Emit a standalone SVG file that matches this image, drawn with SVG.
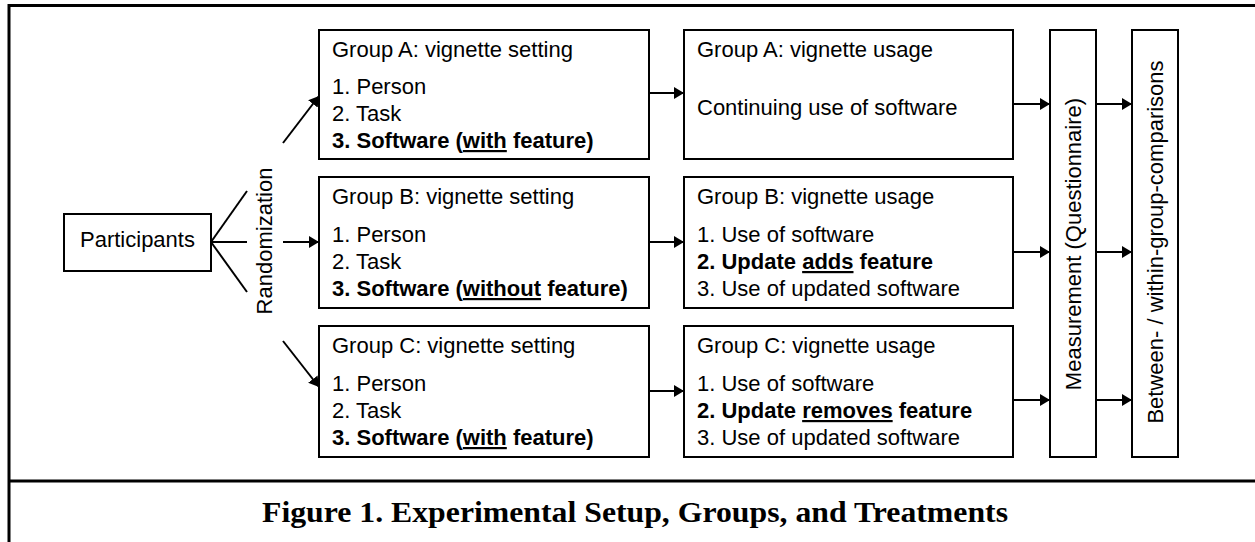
<svg xmlns="http://www.w3.org/2000/svg" width="1255" height="542" viewBox="0 0 1255 542">
<style>
.box{fill:#fff;stroke:#000;stroke-width:2}
.t{font-family:"Liberation Sans",Arial,sans-serif;font-size:22px;fill:#000}
.b{font-weight:bold}
.u{text-decoration:underline}
.c{stroke:#000;stroke-width:2;fill:none}
.a{stroke:#000;stroke-width:2;fill:none;marker-end:url(#ah)}
.frame{stroke:#000;stroke-width:3;fill:none}
.cap{font-family:"Liberation Serif","Times New Roman",serif;font-size:29px;font-weight:bold;fill:#000}
</style>
<defs>
<marker id="ah" markerUnits="userSpaceOnUse" markerWidth="10" markerHeight="12" refX="10" refY="6" orient="auto">
<path d="M0,0 L10,6 L0,12 z" fill="#000"/>
</marker>
</defs>
<rect width="1255" height="542" fill="#fff"/>
<g id="frame">
<path class="frame" d="M9,542 V5.5 H1255"/>
<path class="frame" d="M9,481 H1255"/>
</g>
<g id="connectors">
<path class="c" d="M211,242 L247,191"/>
<path class="c" d="M211,242 L247,242"/>
<path class="c" d="M211,242 L247,292"/>
<path class="a" d="M283,143 L319,96"/>
<path class="a" d="M283,242 L319,242"/>
<path class="a" d="M283,341 L319,387"/>
<path class="a" d="M649,93 L684,93"/>
<path class="a" d="M649,242 L684,242"/>
<path class="a" d="M649,391 L684,391"/>
<path class="a" d="M1013,104 L1050,104"/>
<path class="a" d="M1013,252 L1050,252"/>
<path class="a" d="M1013,400 L1050,400"/>
<path class="a" d="M1096,104 L1132,104"/>
<path class="a" d="M1096,252 L1132,252"/>
<path class="a" d="M1096,400 L1132,400"/>
</g>
<g id="participants">
<rect class="box" x="64" y="214" width="147" height="57"/>
<text class="t" x="137.5" y="247" text-anchor="middle">Participants</text>
</g>
<g id="randomization">
<text class="t" transform="translate(272,241) rotate(-90)" text-anchor="middle">Randomization</text>
</g>
<g id="setting-a">
<rect class="box" x="319" y="30" width="330" height="129"/>
<text class="t" x="332" y="57">Group A: vignette setting</text>
<text class="t" x="332" y="94">1. Person</text>
<text class="t" x="332" y="121">2. Task</text>
<text class="t b" x="332" y="148">3. Software (<tspan class="u">with</tspan> feature)</text>
</g>
<g id="setting-b">
<rect class="box" x="319" y="177" width="330" height="131"/>
<text class="t" x="332" y="204">Group B: vignette setting</text>
<text class="t" x="332" y="242">1. Person</text>
<text class="t" x="332" y="269">2. Task</text>
<text class="t b" x="332" y="296">3. Software (<tspan class="u">without</tspan> feature)</text>
</g>
<g id="setting-c">
<rect class="box" x="319" y="326" width="330" height="131"/>
<text class="t" x="332" y="353">Group C: vignette setting</text>
<text class="t" x="332" y="391">1. Person</text>
<text class="t" x="332" y="418">2. Task</text>
<text class="t b" x="332" y="445">3. Software (<tspan class="u">with</tspan> feature)</text>
</g>
<g id="usage-a">
<rect class="box" x="684" y="30" width="329" height="129"/>
<text class="t" x="697" y="57">Group A: vignette usage</text>
<text class="t" x="697" y="115">Continuing use of software</text>
</g>
<g id="usage-b">
<rect class="box" x="684" y="177" width="329" height="131"/>
<text class="t" x="697" y="204">Group B: vignette usage</text>
<text class="t" x="697" y="242">1. Use of software</text>
<text class="t b" x="697" y="269">2. Update <tspan class="u">adds</tspan> feature</text>
<text class="t" x="697" y="296">3. Use of updated software</text>
</g>
<g id="usage-c">
<rect class="box" x="684" y="326" width="329" height="131"/>
<text class="t" x="697" y="353">Group C: vignette usage</text>
<text class="t" x="697" y="391">1. Use of software</text>
<text class="t b" x="697" y="418">2. Update <tspan class="u">removes</tspan> feature</text>
<text class="t" x="697" y="445">3. Use of updated software</text>
</g>
<g id="measurement">
<rect class="box" x="1050" y="30" width="46" height="427"/>
<text class="t" transform="translate(1081,244) rotate(-90)" text-anchor="middle">Measurement (Questionnaire)</text>
</g>
<g id="comparisons">
<rect class="box" x="1132" y="30" width="46" height="427"/>
<text class="t" transform="translate(1163,242) rotate(-90)" text-anchor="middle">Between- / within-group-comparisons</text>
</g>
<g id="caption">
<text class="cap" x="635" y="522" text-anchor="middle" textLength="746" lengthAdjust="spacingAndGlyphs">Figure 1. Experimental Setup, Groups, and Treatments</text>
</g>
</svg>
